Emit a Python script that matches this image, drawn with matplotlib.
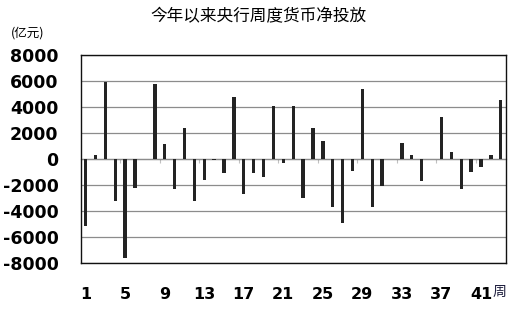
import numpy as np
import matplotlib
matplotlib.use('Agg')
import matplotlib.pyplot as plt
from matplotlib.ticker import NullFormatter

plt.rcParams['font.family'] = ['DejaVu Sans', 'Noto Sans CJK SC']
plt.rcParams['axes.unicode_minus'] = False

# weekly net injection (100 million yuan), weeks 1..43
weeks = list(range(1, 44))
net_injection = [
    -5100, 350, 5900, -3200, -7600, -2230, 0, 5800, 1150, -2330,
    2380, -3180, -1570, -80, -1080, 4750, -2690, -1080, -1380, 4090,
    -260, 4090, -3020, 2380, 1400, -3690, -4940, -880, 5370, -3690,
    -2100, 0, 1230, 330, -1690, 0, 3270, 580, -2280, -1000,
    -570, 280, 4550,
]
tick_weeks = weeks[::4]
y_ticks = list(range(-8000, 8001, 2000))

fig = plt.figure(figsize=(5.17, 3.13), dpi=100)
ax = fig.add_axes([0.1561, 0.1588, 0.822, 0.6655])

ax.bar(weeks, net_injection, width=0.34, color='#232323', zorder=3)

ax.set_xlim(0.5, len(weeks) + 0.5)
ax.set_ylim(-8000, 8000)
ax.set_yticks(y_ticks)
ax.set_xticks(tick_weeks)
ax.tick_params(axis='y', length=0, pad=16, labelsize=12.5)
ax.tick_params(axis='x', length=0, pad=17, labelsize=11.5)
for lab in ax.get_xticklabels() + ax.get_yticklabels():
    lab.set_fontweight('bold')

ax.grid(axis='y', color='#8c8c8c', linewidth=0.9, zorder=0)
for s in ax.spines.values():
    s.set_color('#111111')
    s.set_linewidth(1.0)

# faint category ticks along the zero line
sec = ax.secondary_xaxis(0.5)
sec.set_xticks(np.arange(0.5, len(weeks), 4))
sec.xaxis.set_major_formatter(NullFormatter())
sec.tick_params(axis='x', direction='in', length=3, color='#c0c0c0')
sec.spines['bottom'].set_visible(False)

fig.text(0.5, 0.948, '今年以来央行周度货币净投放', ha='center', va='center',
         fontsize=12, family=['Noto Sans CJK SC'])
fig.text(0.022, 0.895, '(亿元)', ha='left', va='center',
         fontsize=9, family=['Noto Sans CJK SC'])
ax.text(42.9, -0.135, '周', transform=ax.get_xaxis_transform(),
        ha='center', va='center', fontsize=10, color='#1a1a3a',
        family=['Noto Sans CJK SC'])

fig.savefig('out.png', dpi=100)
